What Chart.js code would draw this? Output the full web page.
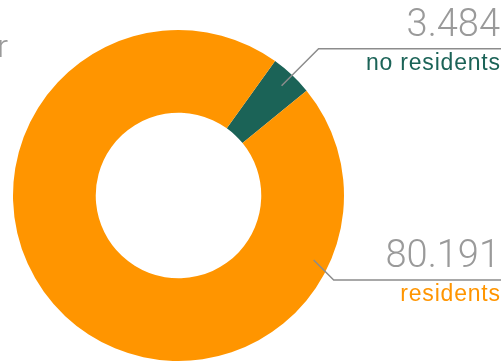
<!DOCTYPE html>
<html>
<head>
<meta charset="utf-8">
<script src="https://cdn.jsdelivr.net/npm/chart.js@4"></script>
<style>
  html, body { margin: 0; padding: 0; background: #fff; overflow: hidden; }
  #wrap { width: 504px; height: 363px; position: relative; }
</style>
</head>
<body>
<div id="wrap"><canvas id="donutChart"></canvas></div>
<script>
// data
const categories = ["no residents", "residents"];
const values = [3484, 80191];
const valueLabels = ["3.484", "80.191"];
const sliceColors = ["#1b6357", "#ff9500"];

// leader line / label placement per slice
const labelSetup = [
    { angleFromTop: null, radiusFactor: 0.91, diag: 37, dir: -1 },  // green: mid angle, goes up
    { angleFromTop: 115.5, radiusFactor: 0.905, diag: 20, dir: 1 }  // orange: goes down
];

const leaderLabels = {
    id: "leaderLabels",
    afterDraw(chart) {
        const ctx = chart.ctx;
        const meta = chart.getDatasetMeta(0);
        const lineEnd = 501;

        meta.data.forEach((arc, i) => {
            const p = arc.getProps(["x", "y", "startAngle", "endAngle", "outerRadius"], true);
            const setup = labelSetup[i];
            let ang;
            if (setup.angleFromTop === null) {
                ang = (p.startAngle + p.endAngle) / 2;
            } else {
                ang = (setup.angleFromTop - 90) * Math.PI / 180;
            }
            const r = p.outerRadius * setup.radiusFactor;
            const ax = p.x + Math.cos(ang) * r;
            const ay = p.y + Math.sin(ang) * r;
            const ex = ax + setup.diag;
            const ey = ay + setup.diag * setup.dir;

            ctx.save();
            ctx.strokeStyle = "#8c8c8c";
            ctx.lineWidth = 1.5;
            ctx.beginPath();
            ctx.moveTo(ax, ay);
            ctx.lineTo(ex, ey);
            ctx.lineTo(lineEnd, ey);
            ctx.stroke();

            ctx.textAlign = "right";
            ctx.textBaseline = "alphabetic";
            ctx.fillStyle = "#9a9a9a";
            ctx.font = "300 38px Roboto, 'Liberation Sans', sans-serif";
            ctx.fillText(valueLabels[i], 500, ey - 12.5);

            ctx.fillStyle = sliceColors[i];
            ctx.font = "400 23px 'Liberation Sans', Arial, sans-serif";
            ctx.letterSpacing = "0.8px";
            ctx.fillText(categories[i], 500.8, ey + 21.5);
            ctx.restore();
        });

        // clipped title fragment at the top-left
        ctx.save();
        ctx.fillStyle = "#9a9a9a";
        ctx.font = "300 32px Roboto, 'Liberation Sans', sans-serif";
        ctx.textAlign = "right";
        ctx.fillText("er", 8, 57);
        ctx.restore();
    }
};

new Chart(document.getElementById("donutChart"), {
    type: "doughnut",
    data: {
        labels: categories,
        datasets: [{
            data: values,
            backgroundColor: sliceColors,
            borderWidth: 0,
            hoverOffset: 0
        }]
    },
    options: {
        responsive: true,
        maintainAspectRatio: false,
        animation: false,
        cutout: "50%",
        rotation: 35.7,
        layout: {
            padding: { left: 13, right: 160, top: 30, bottom: 2 }
        },
        plugins: {
            legend: { display: false },
            tooltip: { enabled: false },
            title: { display: false }
        }
    },
    plugins: [leaderLabels]
});
</script>
</body>
</html>
